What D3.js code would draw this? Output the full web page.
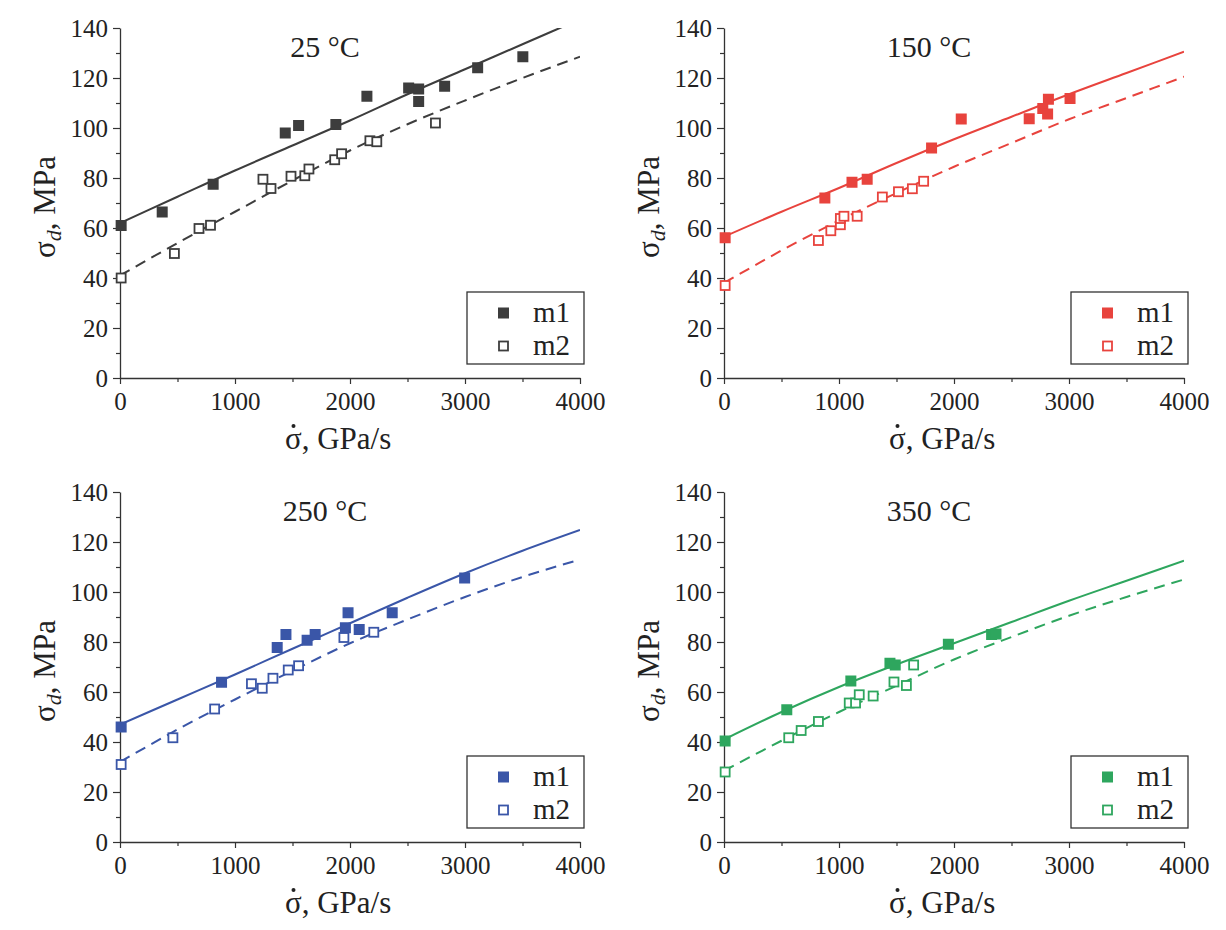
<!DOCTYPE html>
<html>
<head>
<meta charset="utf-8">
<script src="https://cdn.jsdelivr.net/npm/d3@7"></script>
<style>
  body { margin: 0; background: #fff; }
  text { font-family: "Liberation Serif", "Times New Roman", serif; fill: #222; }
  .tick text { font-family: "Liberation Serif", "Times New Roman", serif; font-size: 25px; fill: #222; }
</style>
</head>
<body>
<div class="chart"></div>
<script>
// stress rate grid for the fitted curves (GPa/s)
var fitRate = [0, 500, 1000, 1500, 2000, 2500, 3000, 3500, 4000];

// fitted curves (MPa)
var fit25m1  = [62, 72.5, 83, 93, 103, 113.5, 123.5, 133.5, 143.5];
var fit25m2  = [41, 54, 66.5, 79, 91, 101.5, 111, 120, 128.5];
var fit150m1 = [56.5, 66.5, 76, 86, 95.5, 104.5, 113.5, 122, 130.5];
var fit150m2 = [38, 51, 63, 74, 84.5, 94, 103.5, 112, 120.5];
var fit250m1 = [47, 57, 67, 77.3, 87.5, 97.7, 107.5, 116.5, 124.8];
var fit250m2 = [32, 45, 57, 68.5, 79.5, 89, 98, 106, 113];
var fit350m1 = [41, 52, 62, 71, 79.5, 88, 96.5, 104.5, 112.5];
var fit350m2 = [28.5, 40.5, 52, 62.5, 73, 82, 90.5, 98, 105];

// measured points [rate, stress]
var pts25m1 = [[10,61],[367,66.4],[810,77.5],[1437,98],[1553,101],[1877,101.4],[2147,112.7],[2510,116],[2597,115.6],[2597,110.6],[2823,116.7],[3110,124.1],[3503,128.5]];
var pts25m2 = [[10,40],[473,49.8],[687,59.8],[787,61.1],[1243,79.5],[1313,75.8],[1487,80.7],[1607,80.9],[1643,83.6],[1867,87.3],[1927,89.7],[2173,94.9],[2233,94.5],[2743,102]];
var pts150m1 = [[10,56.1],[877,72],[1113,78.3],[1245,79.5],[1805,92],[2063,103.6],[2654,103.7],[2772,107.8],[2821,111.5],[2814,105.6],[3009,111.8]];
var pts150m2 = [[10,37],[821,55],[929,58.9],[1012,61.3],[1012,63.8],[1043,64.7],[1158,64.7],[1377,72.4],[1517,74.5],[1638,75.7],[1736,78.7]];
var pts250m1 = [[10,46],[883,63.9],[1367,77.8],[1443,83],[1627,80.7],[1697,83],[1960,85.7],[1983,91.7],[2080,85],[2367,91.7],[2997,105.6]];
var pts250m2 = [[10,31],[460,41.7],[823,53.2],[1143,63.3],[1237,61.5],[1330,65.5],[1463,68.8],[1553,70.5],[1947,81.8],[2207,83.9]];
var pts350m1 = [[10,40.4],[546,52.9],[1103,64.4],[1443,71.5],[1489,70.8],[1951,79.1],[2327,83],[2365,83.2]];
var pts350m2 = [[10,28],[563,41.7],[671,44.6],[821,48.2],[1089,55.6],[1144,55.6],[1176,58.9],[1297,58.4],[1478,64],[1586,62.6],[1649,70.8]];

var titles = ["25 °C", "150 °C", "250 °C", "350 °C"];
var colors = ["#3d3d3d", "#e8433d", "#3a56a8", "#2ea65e"];
var xTicks = [0, 1000, 2000, 3000, 4000];
var yTicks = [0, 20, 40, 60, 80, 100, 120, 140];
var seriesNames = ["m1", "m2"];

var panels = [
  {title: titles[0], color: colors[0], f1: fit25m1, f2: fit25m2, p1: pts25m1, p2: pts25m2, left: 120, top: 28},
  {title: titles[1], color: colors[1], f1: fit150m1, f2: fit150m2, p1: pts150m1, p2: pts150m2, left: 724, top: 28},
  {title: titles[2], color: colors[2], f1: fit250m1, f2: fit250m2, p1: pts250m1, p2: pts250m2, left: 120, top: 492},
  {title: titles[3], color: colors[3], f1: fit350m1, f2: fit350m2, p1: pts350m1, p2: pts350m2, left: 724, top: 492}
];

var width = 460, height = 350;
var serif = "'Liberation Serif', 'Times New Roman', serif";

var svg = d3.select(".chart").append("svg")
    .attr("width", 1226)
    .attr("height", 930);

var x = d3.scaleLinear().domain([0, 4000]).range([0, width]);
var y = d3.scaleLinear().domain([0, 140]).range([height, 0]);

svg.append("clipPath").attr("id", "plotclip")
  .append("rect").attr("x", 0).attr("y", 0).attr("width", width).attr("height", height);

panels.forEach(function(p, i) {
    var g = svg.append("g").attr("transform", "translate(" + p.left + "," + p.top + ")");

    // minor ticks
    var xAxisMinor = d3.axisBottom(x).tickValues(d3.range(500, 4000, 1000)).tickSize(4).tickFormat("");
    var yAxisMinor = d3.axisLeft(y).tickValues(d3.range(10, 140, 20)).tickSize(4).tickFormat("");
    g.append("g").attr("transform", "translate(0," + height + ")").call(xAxisMinor)
      .call(a => a.select(".domain").remove());
    g.append("g").call(yAxisMinor).call(a => a.select(".domain").remove());

    var xAxis = g.append("g")
        .attr("transform", "translate(0," + height + ")")
        .call(d3.axisBottom(x).tickValues(xTicks).tickFormat(d3.format("d"))
              .tickSize(6).tickPadding(8).tickSizeOuter(0));
    var yAxis = g.append("g")
        .call(d3.axisLeft(y).tickValues(yTicks).tickFormat(d3.format("d"))
              .tickSize(7).tickPadding(5).tickSizeOuter(0));

    [xAxis, yAxis].forEach(function(a) {
        a.attr("font-family", serif).attr("font-size", 25);
        a.selectAll("text").attr("font-family", serif).attr("font-size", 25).attr("fill", "#222");
    });
    g.selectAll(".tick line").attr("stroke", "#333").attr("stroke-width", 1.2);
    g.selectAll(".domain").attr("stroke", "#333").attr("stroke-width", 1.3);

    // fitted curves
    var line = d3.line()
        .x((d, j) => x(fitRate[j]))
        .y(d => y(d))
        .curve(d3.curveMonotoneX);

    var curves = g.append("g").attr("clip-path", "url(#plotclip)");
    curves.append("path")
        .attr("d", line(p.f1))
        .attr("fill", "none")
        .attr("stroke", p.color)
        .attr("stroke-width", 2);
    curves.append("path")
        .attr("d", line(p.f2))
        .attr("fill", "none")
        .attr("stroke", p.color)
        .attr("stroke-width", 2)
        .attr("stroke-dasharray", "11,7");

    // points
    g.append("g").selectAll("rect")
        .data(p.p2)
        .join("rect")
        .attr("x", d => x(d[0]) - 4.5)
        .attr("y", d => y(d[1]) - 4.5)
        .attr("width", 9).attr("height", 9)
        .attr("fill", "#fff")
        .attr("stroke", p.color)
        .attr("stroke-width", 1.8);
    g.append("g").selectAll("rect")
        .data(p.p1)
        .join("rect")
        .attr("x", d => x(d[0]) - 5.5)
        .attr("y", d => y(d[1]) - 5.5)
        .attr("width", 11).attr("height", 11)
        .attr("fill", p.color);

    // title
    g.append("text")
        .attr("x", 205).attr("y", 29)
        .attr("text-anchor", "middle")
        .style("font-size", "30px")
        .text(p.title);

    // x axis title: sigma with a dot above
    var xl = 165;
    g.append("text")
        .attr("x", xl).attr("y", height + 71)
        .style("font-size", "31px")
        .text("\u03C3, GPa/s");
    g.append("circle")
        .attr("cx", xl + 8.5).attr("cy", height + 48)
        .attr("r", 2)
        .attr("fill", "#222");

    var yt = g.append("text")
        .attr("transform", "translate(-65," + (height / 2 + 4) + ") rotate(-90)")
        .attr("text-anchor", "middle")
        .style("font-size", "31px");
    yt.append("tspan").text("\u03C3");
    yt.append("tspan").attr("dy", 6).style("font-style", "italic").style("font-size", "22px").text("d");
    yt.append("tspan").attr("dy", -6).text(", MPa");

    // legend
    var lg = g.append("g").attr("transform", "translate(347," + (height - 86) + ")");
    lg.append("rect")
        .attr("width", 117).attr("height", 72)
        .attr("fill", "#fff")
        .attr("stroke", "#333")
        .attr("stroke-width", 1.3);
    seriesNames.forEach(function(name, k) {
        var cy = 21 + k * 33;
        if (k === 0) {
            lg.append("rect").attr("x", 31).attr("y", cy - 5.5).attr("width", 11).attr("height", 11)
              .attr("fill", p.color);
        } else {
            lg.append("rect").attr("x", 32).attr("y", cy - 4.5).attr("width", 9).attr("height", 9)
              .attr("fill", "#fff").attr("stroke", p.color).attr("stroke-width", 1.8);
        }
        lg.append("text")
            .attr("x", 66).attr("y", cy + 9)
            .style("font-size", "29px")
            .text(name);
    });
});
</script>
</body>
</html>
